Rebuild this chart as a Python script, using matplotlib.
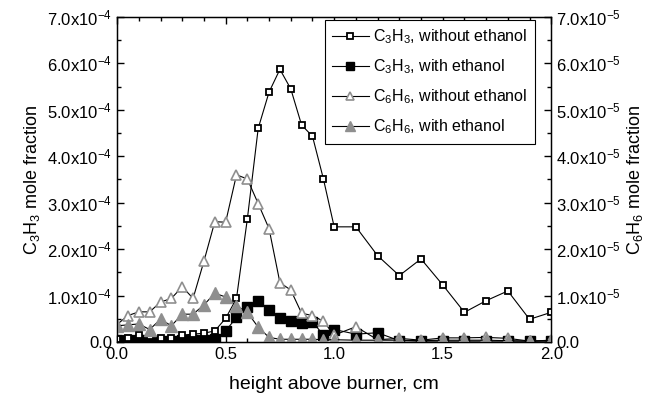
import matplotlib
matplotlib.use("Agg")
import matplotlib.pyplot as plt
from matplotlib.ticker import MultipleLocator, FuncFormatter

plt.rcParams['font.family'] = ['Liberation Sans', 'DejaVu Sans']
plt.rcParams['mathtext.fontset'] = 'custom'
plt.rcParams['mathtext.rm'] = 'Liberation Sans'
plt.rcParams['mathtext.it'] = 'Liberation Sans:italic'

# heights above burner, cm
h_fine = [0.0, 0.05, 0.1, 0.15, 0.2, 0.25, 0.3, 0.35, 0.4, 0.45, 0.5,
          0.55, 0.6, 0.65, 0.7, 0.75, 0.8, 0.85, 0.9, 0.95, 1.0]
h_coarse = [1.1, 1.2, 1.3, 1.4, 1.5, 1.6, 1.7, 1.8, 1.9, 2.0]
height = h_fine + h_coarse

# C3H3 mole fraction, units of 1e-4
c3h3_without = [0.06, 0.08, 0.15, 0.13, 0.09, 0.09, 0.15, 0.17, 0.19, 0.24, 0.51,
                0.94, 2.65, 4.60, 5.38, 5.87, 5.45, 4.67, 4.43, 3.52, 2.48,
                2.48, 1.86, 1.43, 1.79, 1.23, 0.64, 0.89, 1.10, 0.49, 0.64]
c3h3_with = [0.04, 0.04, 0.04, 0.04, 0.03, 0.03, 0.04, 0.04, 0.05, 0.06, 0.24,
             0.53, 0.75, 0.89, 0.70, 0.51, 0.46, 0.42, 0.44, 0.15, 0.27,
             0.17, 0.20, 0.03, 0.02, 0.02, 0.02, 0.02, 0.02, 0.02, 0.02]

# C6H6 mole fraction, units of 1e-5
c6h6_without = [0.38, 0.57, 0.65, 0.65, 0.86, 0.94, 1.19, 0.94, 1.74, 2.59, 2.58,
                3.60, 3.51, 2.98, 2.44, 1.28, 1.12, 0.62, 0.57, 0.45, 0.15,
                0.33, 0.05, 0.08, 0.04, 0.09, 0.09, 0.10, 0.08, 0.02, 0.04]
c6h6_with = [0.35, 0.37, 0.39, 0.27, 0.49, 0.35, 0.60, 0.60, 0.80, 1.05, 0.97,
             0.78, 0.64, 0.32, 0.10, 0.06, 0.06, 0.06, 0.06, 0.05, 0.05,
             0.04, 0.04, 0.04, 0.03, 0.04, 0.04, 0.04, 0.03, 0.02, 0.03]

grey = '#8f8f8f'

fig = plt.figure(figsize=(6.47, 4.01), dpi=100)
ax = fig.add_axes([0.181, 0.147, 0.671, 0.811])
ax2 = ax.twinx()

l1, = ax.plot(height, [v * 1e-4 for v in c3h3_without], '-', color='black', lw=0.8,
              marker='s', ms=5, mfc='white', mec='black', mew=1.3, zorder=4)
l2, = ax.plot(height, [v * 1e-4 for v in c3h3_with], '-', color='black', lw=0.8,
              marker='s', ms=7, mfc='black', mec='black', zorder=3)
l3, = ax2.plot(height, [v * 1e-5 for v in c6h6_without], '-', color='black', lw=0.8,
               marker='^', ms=7, mfc='white', mec=grey, mew=1.2)
l4, = ax2.plot(height, [v * 1e-5 for v in c6h6_with], '-', color='black', lw=0.8,
               marker='^', ms=8, mfc=grey, mec=grey)

ax.set_xlim(0, 2.0)
ax.set_ylim(0, 7e-4)
ax2.set_ylim(0, 7e-5)

ax.xaxis.set_major_locator(MultipleLocator(0.5))
ax.xaxis.set_minor_locator(MultipleLocator(0.1))
ax.yaxis.set_major_locator(MultipleLocator(1e-4))
ax.yaxis.set_minor_locator(MultipleLocator(0.5e-4))
ax2.yaxis.set_major_locator(MultipleLocator(1e-5))
ax2.yaxis.set_minor_locator(MultipleLocator(0.5e-5))
ax.xaxis.set_major_formatter(FuncFormatter(lambda v, p: f'{v:.1f}'))


def sci_fmt(exp):
    def f(v, p):
        m = v / 10 ** exp
        if abs(m) < 1e-9:
            return '0.0'
        return f'{m:.1f}x10$^{{{exp}}}$'
    return FuncFormatter(f)


ax.yaxis.set_major_formatter(sci_fmt(-4))
ax2.yaxis.set_major_formatter(sci_fmt(-5))

for a in (ax, ax2):
    a.tick_params(which='both', direction='in', labelsize=12, width=1)
    a.tick_params(which='major', length=5)
    a.tick_params(which='minor', length=3)
ax.tick_params(which='both', top=True)
for s in ax.spines.values():
    s.set_linewidth(1)

ax.set_xlabel('height above burner, cm', fontsize=14, labelpad=10)
ax.set_ylabel('C$_3$H$_3$ mole fraction', fontsize=13, labelpad=4)
ax2.set_ylabel('C$_6$H$_6$ mole fraction', fontsize=13, labelpad=3)

leg = ax.legend([l1, l2, l3, l4],
                ['C$_3$H$_3$, without ethanol', 'C$_3$H$_3$, with ethanol',
                 'C$_6$H$_6$, without ethanol', 'C$_6$H$_6$, with ethanol'],
                loc='upper right', bbox_to_anchor=(535 / 647, 1 - 20 / 401),
                bbox_transform=fig.transFigure, borderaxespad=0,
                fontsize=11.5, fancybox=False, framealpha=1,
                edgecolor='black', handlelength=2.3, borderpad=0.45,
                labelspacing=0.72, handletextpad=0.3, markerscale=0.85)
leg.get_frame().set_linewidth(0.8)
leg.set_zorder(10)

fig.savefig('out.png', dpi=100)
